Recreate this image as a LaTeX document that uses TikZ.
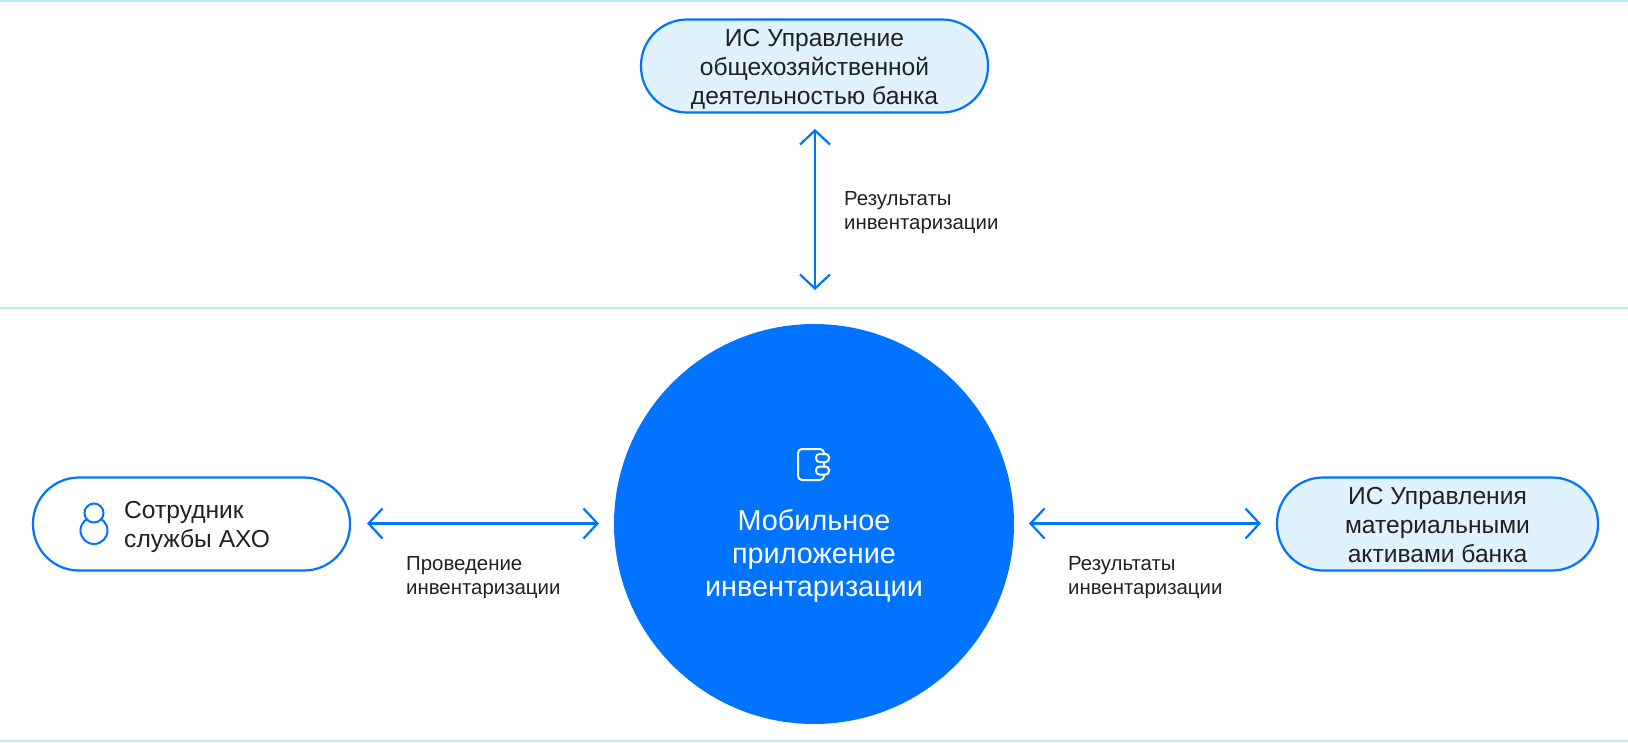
\documentclass[tikz,border=0pt]{standalone}
\usepackage{fontspec}
\setmainfont{Liberation Sans}
\definecolor{bankblue}{HTML}{0073FF}
\definecolor{palefill}{HTML}{DFF2FE}
\definecolor{ruleblue}{HTML}{BDE7FB}
\definecolor{inktext}{HTML}{212121}
\usetikzlibrary{arrows.meta}
\tikzset{
  pillbox/.style={draw=bankblue, line width=2.2pt, rounded corners=46pt, minimum height=93pt},
  pilltext/.style={text=inktext, align=center, inner sep=0pt, font=\fontsize{24.6}{29}\selectfont},
  hub/.style={circle, fill=bankblue, minimum size=400pt, inner sep=0pt},
  duplex/.style={draw=bankblue, line width=2.2pt, {Straight Barb[length=14pt,width=30pt,line width=2.2pt]}-{Straight Barb[length=14pt,width=30pt,line width=2.2pt]}},
  flowlabel/.style={align=left, text=inktext, anchor=north west, inner sep=0pt, font=\fontsize{20.4}{24}\selectfont},
  rulerline/.style={draw=ruleblue, line width=2pt},
  iconline/.style={draw=#1, line width=2pt}
}
\begin{document}
\begin{tikzpicture}[x=1pt, y=-1pt]
\useasboundingbox (0,0) rectangle (1628,742);

\draw[rulerline] (0,1) -- (1628,1);
\draw[rulerline] (0,307.5) -- (1628,307.5);
\draw[rulerline] (0,741) -- (1628,741);

\node[hub] (app) at (814,524) {};
\node[align=center, text=white, font=\fontsize{28.8}{33}\selectfont] (applabel) at (814,555.5) {Мобильное\\приложение\\инвентаризации};

\node[pillbox, fill=palefill, minimum width=347pt] (top) at (814.5,66) {};
\node[pilltext] (toptext) at (814.5,69) {ИС Управление\\общехозяйственной\\деятельностью банка};
\node[pillbox, minimum width=317pt] (staff) at (191.5,524) {};
\node[pilltext, align=left, anchor=west] (stafftext) at (124,527) {Сотрудник\\службы АХО};
\node[pillbox, fill=palefill, minimum width=321pt] (assets) at (1437.5,524) {};
\node[pilltext] (assetstext) at (1437.5,525) {ИС Управления\\материальными\\активами банка};

% arrows
\coordinate (topfree) at (815,129);
\coordinate (topend) at (815,290);
\draw[duplex] (topfree) -- (topend);
\coordinate (staffend) at (367,523.5);
\coordinate (appwest) at (599,523.5);
\draw[duplex] (staffend) -- (appwest);
\coordinate (appeast) at (1029,523.5);
\coordinate (assetsend) at (1261,523.5);
\draw[duplex] (appeast) -- (assetsend);

\node[flowlabel] (toplabel) at (844,191) {Результаты\\инвентаризации};
\node[flowlabel] (leftlabel) at (406,556) {Проведение\\инвентаризации};
\node[flowlabel] (rightlabel) at (1068,556) {Результаты\\инвентаризации};

% person icon
\draw[iconline=bankblue] (94,530.5) circle (13.5pt);
\draw[iconline=bankblue, fill=white] (94,513) circle (9.5pt);

% notebook icon
\draw[iconline=white, rounded corners=4pt] (798,449) rectangle (824,480);
\draw[iconline=white, fill=bankblue, rounded corners=3.5pt] (816,454) rectangle (829,462);
\draw[iconline=white, fill=bankblue, rounded corners=3.5pt] (816,466.5) rectangle (829,474.5);
\end{tikzpicture}
\end{document}
